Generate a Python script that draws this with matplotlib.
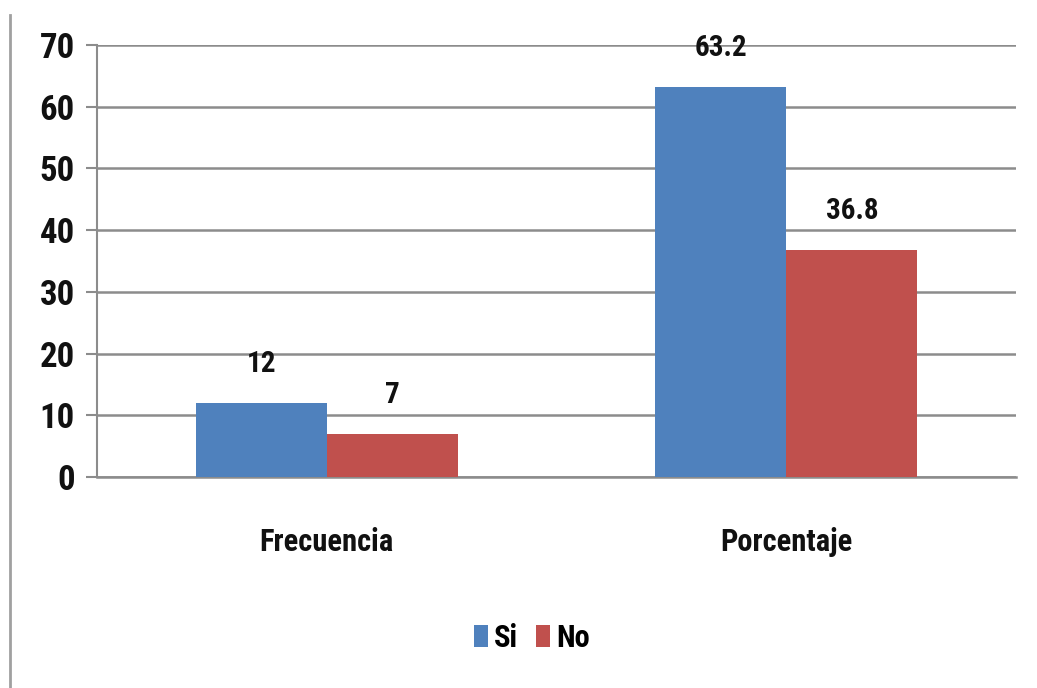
import matplotlib
matplotlib.use("Agg")
import matplotlib.pyplot as plt
from matplotlib import font_manager
from matplotlib.patches import Patch
from matplotlib.lines import Line2D
import numpy as np

categories = ["Frecuencia", "Porcentaje"]
series_names = ["Si", "No"]
si_values = [12, 63.2]
no_values = [7, 36.8]
value_labels_si = ["12", "63.2"]
value_labels_no = ["7", "36.8"]
y_ticks = [0, 10, 20, 30, 40, 50, 60, 70]

BLUE = "#4F81BD"
RED = "#C0504D"


def pick_family(names):
    for n in names:
        try:
            font_manager.findfont(font_manager.FontProperties(family=n),
                                  fallback_to_default=False)
            return n
        except Exception:
            continue
    return "DejaVu Sans"


FAMILY = pick_family(["Liberation Sans Narrow", "Roboto Condensed",
                      "Open Sans Condensed", "DejaVu Sans Condensed",
                      "Liberation Sans"])
FONT = [FAMILY, "DejaVu Sans"]
plt.rcParams["font.family"] = FONT

fig = plt.figure(figsize=(10.37, 6.88), dpi=100)
ax = fig.add_axes([0.0935, 0.3067, 0.8865, 0.6279])

x = np.arange(len(categories))
w = 0.285
ax.bar(x - w / 2, si_values, width=w, color=BLUE, zorder=3, label=series_names[0])
ax.bar(x + w / 2, no_values, width=w, color=RED, zorder=3, label=series_names[1])

for xi, v, t in zip(x - w / 2, si_values, value_labels_si):
    ax.text(xi, v + 4.0, t, ha="center", va="bottom", fontsize=21,
            fontweight="bold", color="#111111")
for xi, v, t in zip(x + w / 2, no_values, value_labels_no):
    ax.text(xi, v + 4.0, t, ha="center", va="bottom", fontsize=21,
            fontweight="bold", color="#111111")

ax.set_xlim(-0.5, 1.5)
ax.set_ylim(0, 70)
ax.set_yticks(y_ticks)
ax.set_yticklabels([str(t) for t in y_ticks], fontsize=25, fontweight="bold",
                   color="#111111")
ax.set_xticks(x)
ax.set_xticklabels(categories, fontsize=22, fontweight="bold", color="#111111")
ax.tick_params(axis="x", length=0, pad=36)
ax.tick_params(axis="y", length=8, width=1.5, color="#8c8c8c", pad=8)

ax.yaxis.grid(True, color="#8c8c8c", linewidth=1.8, zorder=0)
ax.set_axisbelow(True)
for s in ["top", "right"]:
    ax.spines[s].set_visible(False)
ax.spines["left"].set_color("#8c8c8c")
ax.spines["left"].set_linewidth(1.5)
ax.spines["bottom"].set_color("#8c8c8c")
ax.spines["bottom"].set_linewidth(1.8)

handles = [Patch(facecolor=BLUE, label=series_names[0]),
           Patch(facecolor=RED, label=series_names[1])]
fig.legend(handles=handles, loc="center", bbox_to_anchor=(0.513, 0.073),
           ncol=2, frameon=False, handlelength=0.45, handleheight=0.7,
           handletextpad=0.2, columnspacing=0.6,
           prop={"family": FONT, "size": 22, "weight": "bold"})

# thin frame line along the left edge
fig.add_artist(Line2D([0.0096, 0.0096], [0.0, 0.978], transform=fig.transFigure,
                      color="#a0a0a0", linewidth=2))

fig.savefig("out.png", dpi=100, facecolor="white")
